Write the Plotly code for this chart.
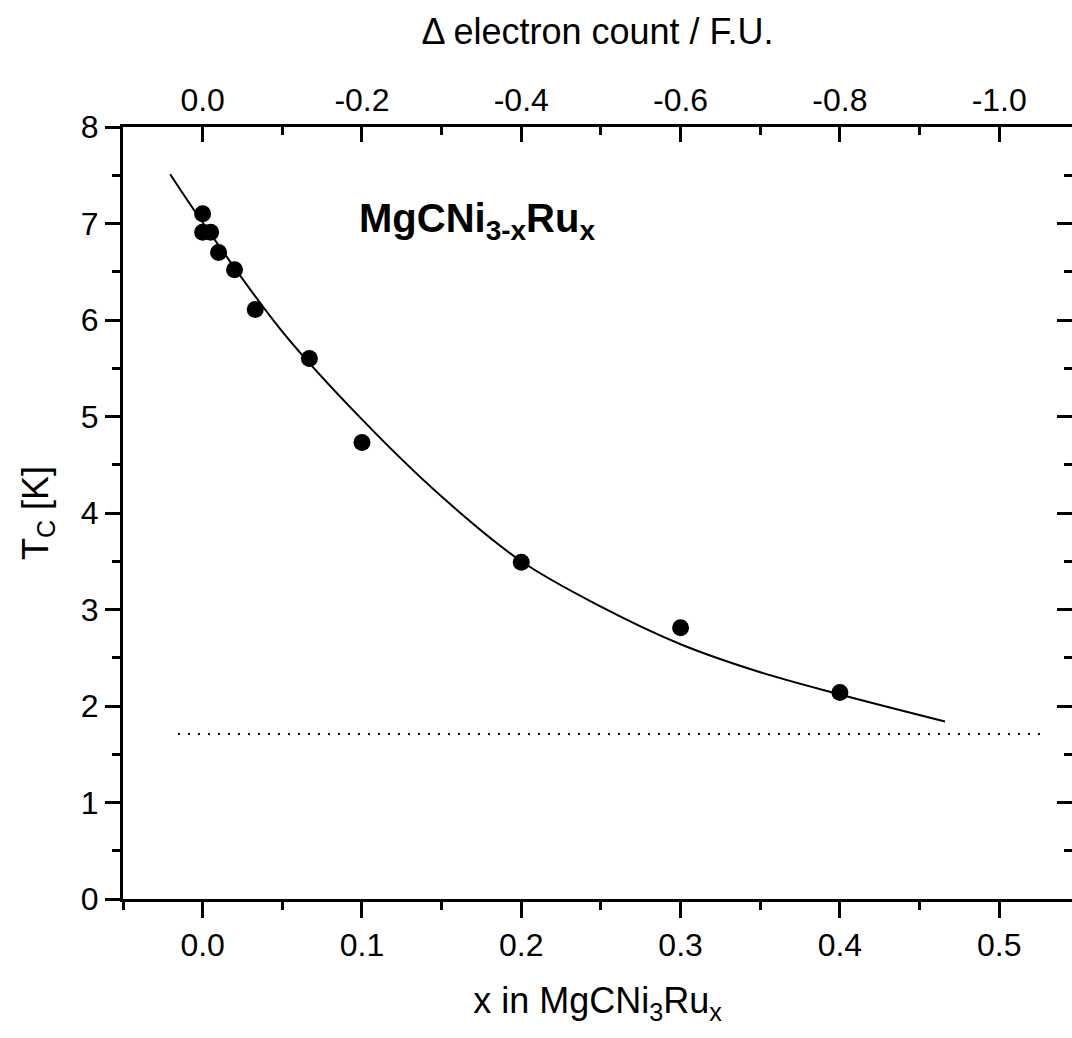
import plotly.graph_objects as go

# measured data points
x_data = [0.0, 0.0, 0.005, 0.01, 0.02, 0.033, 0.067, 0.1, 0.2, 0.3, 0.4]
tc_data = [7.10, 6.91, 6.91, 6.70, 6.52, 6.11, 5.60, 4.73, 3.49, 2.81, 2.14]

# fit curve
x_fit = [-0.0204, 0.0, 0.05, 0.1, 0.15, 0.2, 0.25, 0.3, 0.35, 0.4, 0.466]
tc_fit = [7.51, 7.01, 5.88, 4.97, 4.17, 3.50, 3.03, 2.64, 2.35, 2.12, 1.84]

# dotted reference line
x_ref = [-0.0155, 0.53]
tc_ref = [1.71, 1.71]

# top axis tick labels (delta electron count)
top_vals = [0.0, -0.2, -0.4, -0.6, -0.8, -1.0]
top_text = ["0.0", "-0.2", "-0.4", "-0.6", "-0.8", "-1.0"]
top_minor = [-0.1, -0.3, -0.5, -0.7, -0.9]

FONT = "Arial, Liberation Sans, sans-serif"
X_RANGE = [-0.05, 0.5457]

fig = go.Figure()
fig.add_trace(go.Scatter(x=x_ref, y=tc_ref, mode="lines",
                         line=dict(color="black", width=2, dash="2px,8px"),
                         showlegend=False, hoverinfo="skip"))
fig.add_trace(go.Scatter(x=x_fit, y=tc_fit, mode="lines",
                         line=dict(color="black", width=2, shape="spline", smoothing=1.0),
                         showlegend=False))
fig.add_trace(go.Scatter(x=x_data, y=tc_data, mode="markers",
                         marker=dict(color="black", size=17),
                         showlegend=False))
fig.add_trace(go.Scatter(x=[None], y=[None], xaxis="x2", yaxis="y", showlegend=False, hoverinfo="skip"))
fig.add_trace(go.Scatter(x=[None], y=[None], xaxis="x", yaxis="y2", showlegend=False, hoverinfo="skip"))

axis_common = dict(showgrid=False, zeroline=False, showline=True, linecolor="black",
                   linewidth=3, tickcolor="black", tickwidth=3,
                   tickfont=dict(family=FONT, size=32, color="black"))

fig.update_layout(
    width=1072, height=1038,
    margin=dict(l=123, r=0, t=127, b=139),
    paper_bgcolor="white", plot_bgcolor="white",
    font=dict(family=FONT, color="black"),
    xaxis=dict(range=X_RANGE, tickmode="linear", tick0=0, dtick=0.1, tickformat=".1f",
               ticks="outside", ticklen=16,
               minor=dict(dtick=0.05, tick0=0, ticks="outside", ticklen=8, tickwidth=3, tickcolor="black"),
               title=dict(text="x in MgCNi<sub>3</sub>Ru<sub>x</sub>", font=dict(family=FONT, size=36), standoff=26),
               **axis_common),
    xaxis2=dict(range=[-2 * X_RANGE[0], -2 * X_RANGE[1]], overlaying="x", side="top", anchor="y",
                tickmode="array", tickvals=top_vals, ticktext=top_text,
                ticks="inside", ticklen=15,
                minor=dict(tickmode="array", tickvals=top_minor, ticks="inside", ticklen=8, tickwidth=3, tickcolor="black"),
                title=dict(text="Δ electron count / F.U.", font=dict(family=FONT, size=36), standoff=27),
                **axis_common),
    yaxis=dict(range=[0, 8], tickmode="linear", tick0=0, dtick=1, ticks="outside", ticklen=15,
               minor=dict(dtick=0.5, tick0=0, ticks="outside", ticklen=8, tickwidth=3, tickcolor="black"),
               title=dict(text="T<sub>C</sub> [K]", font=dict(family=FONT, size=36), standoff=22),
               **axis_common),
    yaxis2=dict(range=[0, 8], overlaying="y", side="right", anchor="x",
                tickmode="linear", tick0=0, dtick=1, ticks="inside", ticklen=15, showticklabels=False,
                minor=dict(dtick=0.5, tick0=0, ticks="inside", ticklen=8, tickwidth=3, tickcolor="black"),
                **axis_common),
    annotations=[dict(x=0.097, y=7.03, xref="x", yref="y", xanchor="left", yanchor="middle",
                      text="<b>MgCNi<sub>3-x</sub>Ru<sub>x</sub></b>", showarrow=False,
                      font=dict(family=FONT, size=40, color="black"))],
)

fig.write_html("out.html")
